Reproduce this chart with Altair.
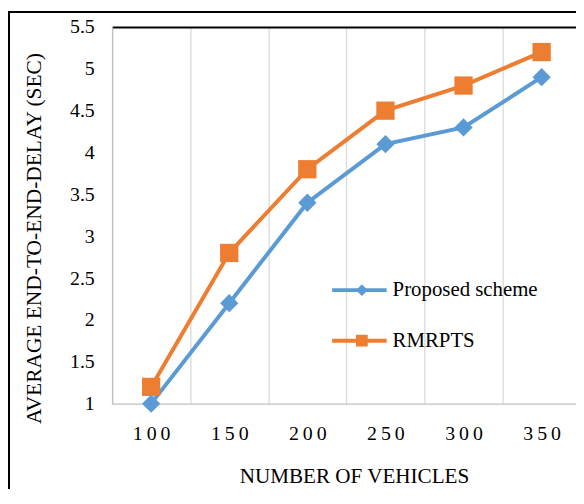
import altair as alt
import pandas as pd

# ---- data ----
vehicles = [100, 150, 200, 250, 300, 350]
proposed = [1.0, 2.2, 3.4, 4.1, 4.3, 4.9]
rmrpts = [1.2, 2.8, 3.8, 4.5, 4.8, 5.2]
series_names = ["Proposed scheme", "RMRPTS"]
series_colors = ["#5B9BD5", "#ED7D31"]
series_shapes = ["diamond", "square"]
y_ticks = [1, 1.5, 2, 2.5, 3, 3.5, 4, 4.5, 5, 5.5]
y_domain = [1, 5.5]
x_title = "NUMBER OF VEHICLES"
y_title = "AVERAGE END-TO-END-DELAY (SEC)"

half = 25  # half the spacing between categories
x_domain = [vehicles[0] - half, 372]
boundaries = [v - half for v in vehicles]

rows = []
for v, p, r in zip(vehicles, proposed, rmrpts):
    rows.append({"vehicles": v, "delay": p, "series": series_names[0]})
    rows.append({"vehicles": v, "delay": r, "series": series_names[1]})
df = pd.DataFrame(rows)
df["marker"] = df["series"]

W, H = 468, 380
px_per_unit = W / (x_domain[1] - x_domain[0])
label_shift = half * px_per_unit
FONT = "Liberation Serif"

x_scale = alt.Scale(domain=x_domain, nice=False, zero=False)
x_enc = alt.X(
    "vehicles:Q",
    scale=x_scale,
    axis=alt.Axis(
        values=boundaries,
        labelExpr="join(split(toString(datum.value + %d), ''), '\u2009')" % half,
        labelOffset=label_shift,
        labelFlush=False,
        labelOverlap=False,
        grid=True, gridColor="#D9D9D9", gridWidth=1.3,
        domainColor="#BFBFBF", domainWidth=1.3,
        ticks=False, tickSize=0,
        labelPadding=20, labelFontSize=20, labelFont=FONT, labelColor="black",
        title=x_title, titleFont=FONT, titleFontSize=21.3, titleFontWeight="normal",
        titleColor="black", titleX=244, titleY=74, titleAlign="center",
        titleBaseline="middle",
    ),
)
y_enc = alt.Y(
    "delay:Q",
    scale=alt.Scale(domain=y_domain, nice=False, zero=False),
    axis=alt.Axis(
        values=y_ticks, format=".1~f", grid=False, ticks=False, tickSize=0,
        labelFlush=False,
        domainColor="#BFBFBF", domainWidth=1.3,
        labelPadding=18, labelFontSize=20, labelFont=FONT, labelColor="black",
        title=y_title, titleFont=FONT, titleFontSize=21.6, titleFontWeight="normal",
        titleColor="black", titleX=-78, titleY=213, titleAngle=270,
        titleAlign="center", titleBaseline="middle",
    ),
)

legend_line = alt.Legend(
    orient="none", legendX=220, legendY=253, title=None,
    symbolType="stroke", symbolSize=3025, symbolStrokeWidth=4,
    labelFont=FONT, labelFontSize=21, labelColor="black", labelOffset=4,
    labelLimit=300, clipHeight=25, rowPadding=26, padding=0,
)
legend_marker = alt.Legend(
    orient="none", legendX=241.5, legendY=253, title=None,
    symbolSize=140, symbolStrokeWidth=0, labelExpr="''",
    labelFont=FONT, labelFontSize=21, labelOffset=4,
    clipHeight=25, rowPadding=26, padding=0,
)

base = alt.Chart(df)

lines = base.mark_line(strokeWidth=4).encode(
    x=x_enc, y=y_enc,
    stroke=alt.Stroke("series:N", scale=alt.Scale(domain=series_names, range=series_colors),
                      legend=legend_line),
)
# marker scales take their domain from the data (sorted), so their legend stays separate
points = base.mark_point(filled=True, size=340, opacity=1).encode(
    x=alt.X("vehicles:Q", scale=x_scale, axis=None),
    y="delay:Q",
    fill=alt.Fill("marker:N", scale=alt.Scale(range=series_colors), legend=legend_marker),
    shape=alt.Shape("marker:N", scale=alt.Scale(range=series_shapes), legend=legend_marker),
)

# black top edge of the plot area: an unlabeled top x axis
top_edge = base.mark_point(opacity=0).encode(
    x=alt.X("vehicles:Q", scale=x_scale,
            axis=alt.Axis(orient="top", labels=False, ticks=False, tickSize=0, grid=False,
                          domainColor="black", domainWidth=2, title=None)),
    y="delay:Q",
)

# outer figure frame (decoration, in pixels)
one = pd.DataFrame({"k": [0]})
frame_top = alt.Chart(one).mark_rule(color="black", strokeWidth=2).encode(
    x=alt.value(-110), x2=alt.value(W + 20), y=alt.value(-15)
)
frame_left = alt.Chart(one).mark_rule(color="black", strokeWidth=2).encode(
    x=alt.value(-104), y=alt.value(-15), y2=alt.value(H + 120)
)

chart = alt.layer(lines, points, top_edge, frame_top, frame_left).resolve_axis(
    x="independent"
).properties(
    width=W, height=H,
    padding={"left": 105, "top": 17, "right": 0, "bottom": 84},
    autosize=alt.AutoSizeParams(type="none"),
    background="white",
).configure_view(stroke=None)

chart.save("out.html", embed_options={"renderer": "svg", "actions": False})
